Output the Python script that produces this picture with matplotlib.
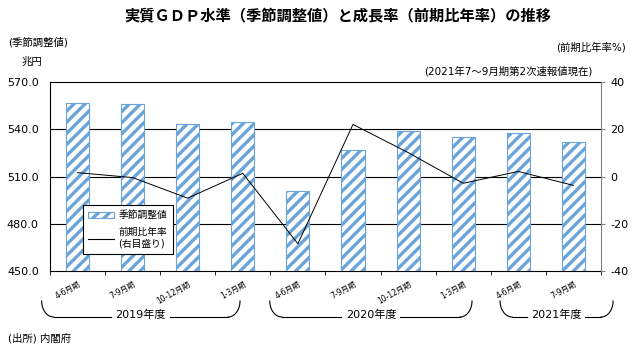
import numpy as np
import matplotlib
matplotlib.use('Agg')
import matplotlib.pyplot as plt
from matplotlib.lines import Line2D
from matplotlib.patches import Patch

plt.rcParams['font.family'] = ['DejaVu Sans', 'Noto Sans CJK JP']
plt.rcParams['hatch.linewidth'] = 2.4

# data
quarters = ['4-6月期', '7-9月期', '10-12月期', '1-3月期',
            '4-6月期', '7-9月期', '10-12月期', '1-3月期',
            '4-6月期', '7-9月期']
gdp_level = [556.6, 555.8, 543.3, 544.7, 500.8, 526.6, 538.7, 534.9, 537.4, 532.3]
growth_rate = [1.7, -0.4, -9.1, 1.4, -28.4, 22.1, 10.2, -2.8, 2.2, -3.7]
fiscal_years = ['2019年度', '2020年度', '2021年度']
fy_spans = [(-0.65, 2.95), (3.49, 7.16), (7.67, 9.72)]

blue = '#6aa4d8'

fig = plt.figure(figsize=(6.4, 3.54), dpi=100)
ax = fig.add_axes([0.078, 0.234, 0.861, 0.534])
ax2 = ax.twinx()

x = np.arange(len(quarters))
ax.bar(x, gdp_level, width=0.42, facecolor='white', edgecolor=blue,
       hatch='///', linewidth=0.8, zorder=3, label='季節調整値')
ax.set_ylim(450, 570)
ax.set_yticks([450, 480, 510, 540, 570])
ax.set_yticklabels(['%.1f' % v for v in [450, 480, 510, 540, 570]], fontsize=8)
ax.set_xlim(-0.5, len(quarters) - 0.5)
for v in [480, 510, 540]:
    ax.axhline(v, color='black', lw=0.8, zorder=1)

ax2.plot(x, growth_rate, color='black', lw=0.7, zorder=4)
ax2.set_ylim(-40, 40)
ax2.set_yticks([-40, -20, 0, 20, 40])
ax2.set_yticklabels(['-40', '-20', '0', '20', '40'], fontsize=8)
ax2.tick_params(axis='y', length=3, color='gray')

ax.set_xticks(x)
ax.set_xticklabels(quarters, rotation=30, ha='right', rotation_mode='anchor',
                   fontsize=5.5)
ax.tick_params(axis='x', length=0, pad=6)
ax.set_xticks(np.arange(len(quarters) + 1) - 0.5, minor=True)
ax.tick_params(axis='x', which='minor', length=3)
ax.tick_params(axis='y', length=0, pad=8)

for s in ['left', 'bottom', 'top']:
    ax.spines[s].set_color('black')
    ax.spines[s].set_linewidth(0.8)
ax2.spines['right'].set_color('gray')
for s in ['left', 'top', 'bottom']:
    ax2.spines[s].set_visible(False)
ax.spines['right'].set_visible(False)

handles = [Patch(facecolor='white', edgecolor=blue, hatch='///', lw=0.8),
           Line2D([0], [0], color='black', lw=0.8)]
leg = ax2.legend(handles, ['季節調整値', '前期比年率\n(右目盛り)'],
                 loc='lower left', bbox_to_anchor=(0.06, 0.09),
                 fontsize=7, fancybox=False, framealpha=1,
                 edgecolor='black', handlelength=2.6, handleheight=0.45,
                 handletextpad=0.5, borderpad=0.55, labelspacing=0.7,
                 borderaxespad=0)
leg.get_frame().set_linewidth(0.8)

# fiscal year brackets
fw, fh = fig.get_size_inches() * fig.dpi
rx, ry = 12 / fw, 16 / fh
top, bot = 1 - 301 / 354, 1 - 317 / 354
t = np.linspace(0, np.pi / 2, 30)
for name, (a, b) in zip(fiscal_years, fy_spans):
    x0 = fig.transFigure.inverted().transform(ax.transData.transform((a, 0)))[0]
    x1 = fig.transFigure.inverted().transform(ax.transData.transform((b, 0)))[0]
    lx = x0 + rx * (1 - np.cos(t))
    ly = top - ry * np.sin(t)
    rxs = x1 - rx * (1 - np.cos(t))
    fig.add_artist(Line2D(lx, ly, color='black', lw=0.8))
    fig.add_artist(Line2D(rxs, ly, color='black', lw=0.8))
    fig.add_artist(Line2D([x0 + rx, x1 - rx], [bot, bot], color='black', lw=0.8))
    fig.text((x0 + x1) / 2, bot + 0.005, name, ha='center', va='center',
             fontsize=8, bbox=dict(facecolor='white', edgecolor='none', pad=2.5))

fig.text(0.528, 0.952, '実質ＧＤＰ水準（季節調整値）と成長率（前期比年率）の推移',
         ha='center', va='center', fontsize=11, fontweight='bold')
fig.text(0.012, 0.881, '(季節調整値)', ha='left', va='center', fontsize=7.5)
fig.text(0.034, 0.825, '兆円', ha='left', va='center', fontsize=7.5)
fig.text(0.978, 0.867, '(前期比年率%)', ha='right', va='center', fontsize=7.5)
fig.text(0.926, 0.800, '(2021年7～9月期第2次速報値現在)', ha='right', va='center',
         fontsize=7.5)
fig.text(0.012, 0.045, '(出所) 内閣府', ha='left', va='center', fontsize=7.5)

fig.savefig('out.png', dpi=100)
